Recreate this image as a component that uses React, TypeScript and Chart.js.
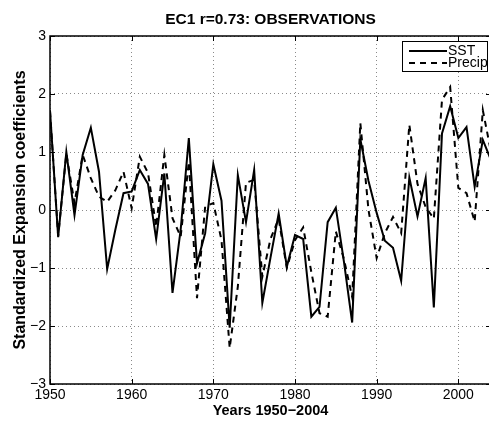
import React, { useEffect, useRef } from "react";
import { Chart, registerables } from "chart.js";

Chart.register(...registerables);

// Years covered by the expansion coefficients
const years = [
  1950, 1951, 1952, 1953, 1954, 1955, 1956, 1957, 1958, 1959,
  1960, 1961, 1962, 1963, 1964, 1965, 1966, 1967, 1968, 1969,
  1970, 1971, 1972, 1973, 1974, 1975, 1976, 1977, 1978, 1979,
  1980, 1981, 1982, 1983, 1984, 1985, 1986, 1987, 1988, 1989,
  1990, 1991, 1992, 1993, 1994, 1995, 1996, 1997, 1998, 1999,
  2000, 2001, 2002, 2003, 2004,
];

// Standardized EC1 of sea surface temperature
const sstValues = [
  1.72, -0.47, 1.0, -0.09, 0.95, 1.42, 0.66, -1.02, -0.34, 0.29,
  0.32, 0.69, 0.45, -0.5, 0.63, -1.43, -0.34, 1.24, -0.92, -0.4,
  0.79, 0.16, -2.03, 0.6, -0.21, 0.69, -1.6, -0.82, -0.06, -0.98,
  -0.43, -0.5, -1.84, -1.67, -0.21, 0.04, -0.9, -1.94, 1.22, 0.5,
  -0.05, -0.53, -0.65, -1.22, 0.56, -0.11, 0.55, -1.68, 1.32, 1.79,
  1.24, 1.43, 0.4, 1.21, 0.86,
];

// Standardized EC1 of precipitation
const precipValues = [
  1.7, -0.45, 0.97, 0.12, 0.95, 0.55, 0.23, 0.14, 0.34, 0.66,
  0.03, 0.92, 0.64, -0.29, 0.95, -0.14, -0.46, 0.83, -1.52, 0.06,
  0.12, -0.52, -2.38, -1.32, 0.47, 0.52, -1.15, -0.5, -0.15, -1.0,
  -0.52, -0.3, -1.07, -1.78, -1.84, -0.37, -0.85, -1.5, 1.5, 0.0,
  -0.83, -0.4, -0.12, -0.4, 1.47, 0.45, 0.05, -0.15, 1.9, 2.12,
  0.38, 0.29, -0.2, 1.72, 1.0,
];

const xTicks = [1950, 1960, 1970, 1980, 1990, 2000];
const yTicks = [-3, -2, -1, 0, 1, 2, 3];

const FONT = "'Liberation Sans', Arial, Helvetica, sans-serif";
const DASH = [6, 5];

// Closed axes box with inward tick marks on all four sides
const framePlugin = {
  id: "frame",
  afterDraw(chart: any) {
    const { ctx, chartArea: a, scales } = chart;
    const L = 5;
    ctx.save();
    ctx.strokeStyle = "#000";
    ctx.lineWidth = 1;
    ctx.beginPath();
    for (const v of xTicks) {
      const px = Math.round(scales.x.getPixelForValue(v)) + 0.5;
      ctx.moveTo(px, a.bottom);
      ctx.lineTo(px, a.bottom - L);
      ctx.moveTo(px, a.top);
      ctx.lineTo(px, a.top + L);
    }
    for (const v of yTicks) {
      const py = Math.round(scales.y.getPixelForValue(v)) + 0.5;
      ctx.moveTo(a.left, py);
      ctx.lineTo(a.left + L, py);
      ctx.moveTo(a.right, py);
      ctx.lineTo(a.right - L, py);
    }
    ctx.stroke();
    ctx.lineWidth = 1.5;
    ctx.strokeRect(a.left, a.top, a.right - a.left, a.bottom - a.top);
    ctx.restore();
  },
};

// Boxed legend in the upper right corner of the axes
const boxLegendPlugin = {
  id: "boxLegend",
  afterDraw(chart: any) {
    const { ctx, chartArea: a } = chart;
    const bx = a.right - 89;
    const by = a.top + 5;
    const bw = 85;
    const bh = 30;
    ctx.save();
    ctx.fillStyle = "#fff";
    ctx.fillRect(bx, by, bw, bh);
    ctx.strokeStyle = "#000";
    ctx.lineWidth = 1;
    ctx.strokeRect(bx + 0.5, by + 0.5, bw, bh);
    ctx.beginPath();
    ctx.rect(bx, by, bw + 1, bh + 1);
    ctx.clip();
    chart.data.datasets.forEach((ds: any, i: number) => {
      const cy = by + 9.5 + i * 12.5;
      ctx.strokeStyle = ds.borderColor;
      ctx.lineWidth = 2;
      ctx.setLineDash(ds.borderDash || []);
      ctx.beginPath();
      ctx.moveTo(bx + 7, Math.round(cy));
      ctx.lineTo(bx + 45, Math.round(cy));
      ctx.stroke();
      ctx.setLineDash([]);
      ctx.fillStyle = "#000";
      ctx.font = `14px ${FONT}`;
      ctx.textBaseline = "middle";
      ctx.textAlign = "left";
      ctx.fillText(ds.label, bx + 46, cy + 0.5);
    });
    ctx.restore();
  },
};

export default function App() {
  const canvasRef = useRef<HTMLCanvasElement | null>(null);

  useEffect(() => {
    const canvas = canvasRef.current;
    if (!canvas) return;
    const toPoints = (vals: number[]) => years.map((yr, i) => ({ x: yr, y: vals[i] }));

    const chart = new Chart(canvas, {
      type: "line",
      data: {
        datasets: [
          {
            label: "SST",
            data: toPoints(sstValues),
            borderColor: "#000",
            borderWidth: 2,
            pointRadius: 0,
            tension: 0,
            fill: false,
          },
          {
            label: "Precip",
            data: toPoints(precipValues),
            borderColor: "#000",
            borderWidth: 2,
            borderDash: DASH,
            pointRadius: 0,
            tension: 0,
            fill: false,
          },
        ],
      },
      options: {
        responsive: false,
        animation: false,
        devicePixelRatio: 1,
        layout: { padding: { left: 0, right: 6, top: 0, bottom: 0 } },
        plugins: {
          legend: { display: false },
          tooltip: { enabled: false },
          title: {
            display: true,
            text: "EC1 r=0.73: OBSERVATIONS",
            fullSize: false,
            color: "#000",
            font: { family: FONT, size: 15.5, weight: "bold" },
            padding: { top: 10, bottom: 7.4 },
          },
        },
        scales: {
          x: {
            type: "linear",
            min: 1950,
            max: 2004,
            afterBuildTicks: (s: any) => {
              s.ticks = xTicks.map((v) => ({ value: v }));
            },
            afterFit: (s: any) => {
              s.height = 37;
            },
            ticks: {
              color: "#000",
              font: { family: FONT, size: 14 },
              padding: 3,
              maxRotation: 0,
              autoSkip: false,
              callback: (v: any) => String(v),
            },
            grid: { color: "#8a8a8a", lineWidth: 1, drawTicks: false },
            border: { display: false, dash: [1, 3] },
            title: {
              display: true,
              text: "Years 1950\u22122004",
              color: "#000",
              font: { family: FONT, size: 14.5, weight: "bold" },
              padding: { top: 0, bottom: 1.4 },
            },
          },
          y: {
            type: "linear",
            min: -3,
            max: 3,
            afterBuildTicks: (s: any) => {
              s.ticks = yTicks.map((v) => ({ value: v }));
            },
            afterFit: (s: any) => {
              s.width = 50;
            },
            ticks: {
              color: "#000",
              font: { family: FONT, size: 14 },
              padding: 4,
              callback: (v: any) => (v < 0 ? "\u2212" + Math.abs(v) : String(v)),
            },
            grid: { color: "#8a8a8a", lineWidth: 1, drawTicks: false },
            border: { display: false, dash: [1, 3] },
            title: {
              display: true,
              text: "Standardized Expansion coefficients",
              color: "#000",
              font: { family: FONT, size: 16, weight: "bold" },
              padding: { top: 11, bottom: 0 },
            },
          },
        },
      },
      plugins: [framePlugin, boxLegendPlugin],
    });

    return () => chart.destroy();
  }, []);

  return (
    <div
      style={{
        position: "fixed",
        left: 0,
        top: 0,
        width: 489,
        height: 421,
        overflow: "hidden",
        background: "#fff",
      }}
    >
      <canvas
        ref={canvasRef}
        width={497}
        height={421}
        style={{ width: 497, height: 421, display: "block" }}
      />
    </div>
  );
}
